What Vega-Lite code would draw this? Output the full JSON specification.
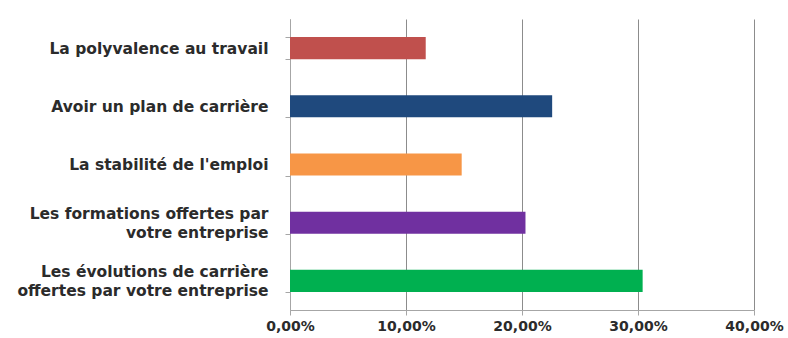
{
  "$schema": "https://vega.github.io/schema/vega-lite/v6.json",
  "width": 464,
  "height": 291,
  "autosize": "none",
  "padding": {"left": 290, "top": 19, "right": 34, "bottom": 28},
  "background": "white",
  "data": {
    "values": [
      {"critere": "La polyvalence au travail", "part": 0.117},
      {"critere": "Avoir un plan de carrière", "part": 0.226},
      {"critere": "La stabilité de l'emploi", "part": 0.148},
      {"critere": "Les formations offertes par votre entreprise", "part": 0.203},
      {"critere": "Les évolutions de carrière offertes par votre entreprise", "part": 0.304}
    ]
  },
  "mark": {"type": "bar"},
  "encoding": {
    "y": {
      "field": "critere",
      "type": "nominal",
      "sort": null,
      "scale": {"paddingInner": 0.62, "paddingOuter": 0.31},
      "axis": {
        "title": null,
        "domainColor": "#A6A6A6",
        "tickColor": "#A6A6A6",
        "tickBand": "extent",
        "tickSize": 5,
        "labelPadding": 17,
        "labelFont": "DejaVu Sans",
        "labelFontWeight": "bold",
        "labelFontSize": 15.5,
        "labelColor": "#2b2b2b",
        "labelLimit": 300,
        "labelLineHeight": 18.5,
        "labelOffset": {"condition": {"test": "length(datum.label) > 30", "value": -9}, "value": 0},
        "labelExpr": "datum.label == 'Les formations offertes par votre entreprise' ? ['Les formations offertes par', 'votre entreprise'] : datum.label == 'Les évolutions de carrière offertes par votre entreprise' ? ['Les évolutions de carrière', 'offertes par votre entreprise'] : datum.label"
      }
    },
    "x": {
      "field": "part",
      "type": "quantitative",
      "scale": {"domain": [0, 0.4], "nice": false},
      "axis": {
        "title": null,
        "values": [0, 0.1, 0.2, 0.3, 0.4],
        "labelExpr": "replace(format(datum.value, '.2%'), '.', ',')",
        "labelFont": "DejaVu Sans",
        "labelFontWeight": "bold",
        "labelFontSize": 14,
        "labelColor": "#2b2b2b",
        "labelPadding": 4,
        "labelFlush": false,
        "domainColor": "#A6A6A6",
        "tickColor": "#A6A6A6",
        "tickSize": 5,
        "grid": true,
        "gridColor": "#8C8C8C",
        "gridWidth": 1
      }
    },
    "color": {
      "field": "critere",
      "type": "nominal",
      "legend": null,
      "scale": {
        "domain": [
          "La polyvalence au travail",
          "Avoir un plan de carrière",
          "La stabilité de l'emploi",
          "Les formations offertes par votre entreprise",
          "Les évolutions de carrière offertes par votre entreprise"
        ],
        "range": ["#C0504D", "#1F497D", "#F79646", "#7030A0", "#00B050"]
      }
    }
  },
  "config": {"view": {"stroke": null}}
}
